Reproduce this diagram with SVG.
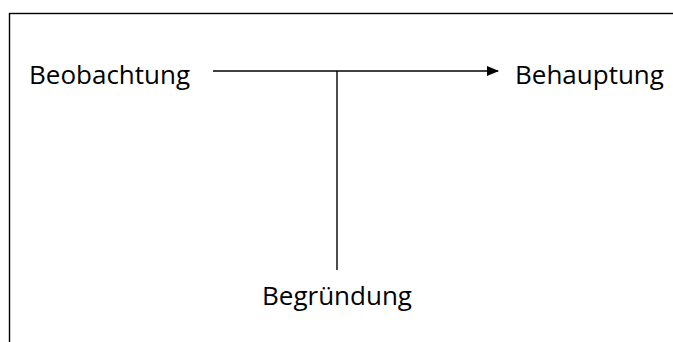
<svg xmlns="http://www.w3.org/2000/svg" width="673" height="342" viewBox="0 0 673 342">
<style>
.lbl{font-family:"Open Sans","Noto Sans",sans-serif;font-size:26px;fill:#000}
.ln{stroke:#000;stroke-width:1.4;fill:none}
</style>
<defs>
<marker id="ah" markerWidth="12" markerHeight="10" refX="11" refY="5" orient="auto" markerUnits="userSpaceOnUse">
<path d="M0,0 L12,5 L0,10 z" fill="#000"/>
</marker>
</defs>
<rect width="673" height="342" fill="#fff"/>
<rect x="9.5" y="13.5" width="700" height="400" fill="none" stroke="#000" stroke-width="1.4"/>
<g id="connectors">
<line class="ln" x1="213" y1="71" x2="498" y2="71" marker-end="url(#ah)"/>
<line class="ln" x1="337" y1="71" x2="337" y2="270"/>
</g>
<g id="beobachtung"><text class="lbl" x="29" y="84">Beobachtung</text></g>
<g id="behauptung"><text class="lbl" x="515" y="84">Behauptung</text></g>
<g id="begruendung"><text class="lbl" x="337" y="305" text-anchor="middle">Begründung</text></g>
</svg>
